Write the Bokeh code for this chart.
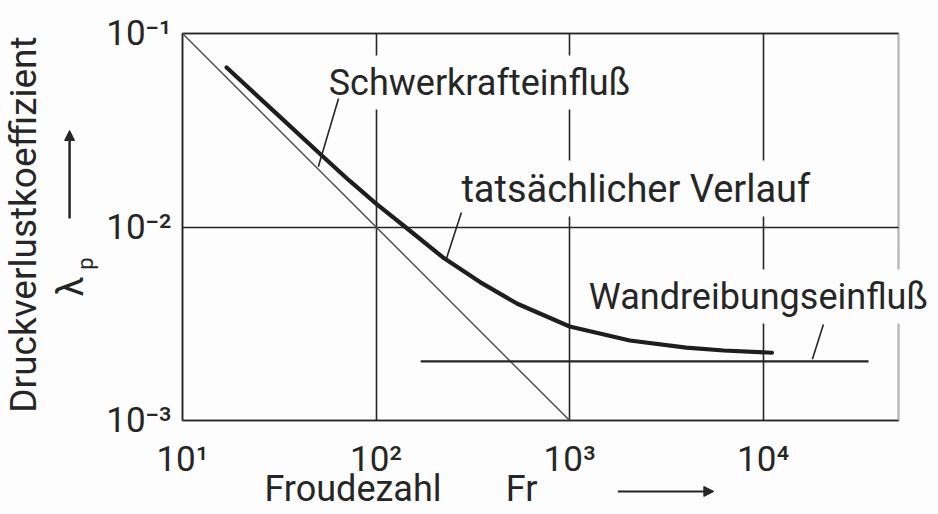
import math

from bokeh.plotting import figure
from bokeh.models import Label, Arrow, NormalHead, FixedTicker, BoxAnnotation
from bokeh.embed import file_html
from bokeh.resources import INLINE

# Measured pressure-loss coefficient over the Froude number
fr_actual = [16.9, 31.6, 50.1, 72.6, 100, 141.6, 220.8, 344.4, 537.0,
             1000, 2046, 4000, 6252, 11100]
lam_actual = [0.0667, 0.0374, 0.0244, 0.0174, 0.0132, 0.0100, 0.00698,
              0.00519, 0.00401, 0.00306, 0.00259, 0.00238, 0.00230, 0.00224]

# Asymptote for the gravity-dominated range (lambda_p = 1/Fr)
fr_gravity = [10, 1000]
lam_gravity = [0.1, 0.001]

# Asymptote for the wall-friction-dominated range
fr_wall = [170, 35000]
lam_wall = [0.00202, 0.00202]

x_ticks = [10.0, 100.0, 1000.0, 10000.0]
x_tick_labels = ["10\u00b9", "10\u00b2", "10\u00b3", "10\u2074"]
y_ticks = [0.001, 0.01, 0.1]
y_tick_labels = ["10\u207b\u00b3", "10\u207b\u00b2", "10\u207b\u00b9"]

# diagram window and the room around it (pixels) for axis titles
FR_MIN, FR_MAX = 10.0, 5e4
LAM_MIN, LAM_MAX = 1e-3, 1e-1
W, H = 938, 514
PAD_L, PAD_R, PAD_T, PAD_B = 182, 40, 33, 94

INK = "#262626"
BG = "#fdfdfd"
FONT = "Roboto"


def padded(lo, hi, size, pad_lo, pad_hi):
    a, b = math.log10(lo), math.log10(hi)
    per_px = (b - a) / (size - pad_lo - pad_hi)
    return 10 ** (a - pad_lo * per_px), 10 ** (b + pad_hi * per_px)


x_range = padded(FR_MIN, FR_MAX, W, PAD_L, PAD_R)
y_range = padded(LAM_MIN, LAM_MAX, H, PAD_B, PAD_T)

p = figure(width=W, height=H, title=None,
           x_axis_type="log", y_axis_type="log",
           x_range=x_range, y_range=y_range,
           output_backend="svg", toolbar_location=None,
           min_border=0,
           background_fill_color=BG, border_fill_color=BG)
p.outline_line_color = None

for ax, ticks, labels, loc in ((p.xaxis[0], x_ticks, x_tick_labels, LAM_MIN),
                               (p.yaxis[0], y_ticks, y_tick_labels, FR_MIN)):
    ax.fixed_location = loc
    ax.ticker = FixedTicker(ticks=ticks, minor_ticks=[])
    ax.major_label_overrides = dict(zip(ticks, labels))
    ax.axis_line_color = None
    ax.major_tick_line_color = None
    ax.minor_tick_line_color = None
    ax.major_label_text_font = FONT
    ax.major_label_text_font_size = "35px"
    ax.major_label_text_color = INK

p.xaxis.major_label_standoff = 12
p.yaxis.major_label_standoff = 5

p.grid.grid_line_color = INK
p.grid.grid_line_width = 1.6
p.grid.grid_line_alpha = 1.0
p.xgrid.cross_bounds = (LAM_MIN, LAM_MAX)
p.ygrid.cross_bounds = (FR_MIN, FR_MAX)

# diagram frame
p.add_layout(BoxAnnotation(left=FR_MIN, right=FR_MAX,
                           bottom=LAM_MIN, top=LAM_MAX,
                           fill_color=None, line_color=INK,
                           line_width=2.5, level="underlay"))

# asymptotes and measured curve
p.line(fr_gravity, lam_gravity, line_color="#4a4a4a", line_width=1.4)
p.line(fr_wall, lam_wall, line_color=INK, line_width=2.2)
p.line(fr_actual, lam_actual, line_color="#1e1e1e", line_width=4.2,
       line_join="round", line_cap="round")


def note(x, y, text, size):
    p.add_layout(Label(x=x, y=y, text=text, text_font=FONT,
                       text_font_size=size, text_color=INK,
                       text_baseline="alphabetic",
                       background_fill_color=BG, padding=6))


def leader(x0, y0, x1, y1):
    p.add_layout(Arrow(x_start=x0, y_start=y0, x_end=x1, y_end=y1,
                       end=None, line_color=INK, line_width=1.6))


note(53, 0.0558, "Schwerkrafteinflu\u00df", "36px")
note(257, 0.0158, "tats\u00e4chlicher Verlauf", "38px")
note(1170, 0.00437, "Wandreibungseinflu\u00df", "36px")

leader(64, 0.0461, 50.3, 0.0205)
leader(276, 0.01189, 231, 0.00687)
leader(20460, 0.00313, 17950, 0.00207)


def title_text(x, y, text, size, angle=0.0, align="left", baseline="alphabetic"):
    p.add_layout(Label(x=x, y=y, text=text, text_font=FONT,
                       text_font_size=size, text_color=INK, angle=angle,
                       text_align=align, text_baseline=baseline))


def direction(x0, y0, x1, y1, width):
    p.add_layout(Arrow(x_start=x0, y_start=y0, x_end=x1, y_end=y1,
                       line_color=INK, line_width=width,
                       end=NormalHead(size=10, fill_color=INK,
                                      line_color=INK)))


# x-axis title
title_text(26.5, 4.40e-4, "Froudezahl", "36px")
title_text(468, 4.40e-4, "Fr", "36px")
direction(1774, 4.30e-4, 5560, 4.30e-4, 2)

# y-axis title
title_text(1.507, 0.0103, "Druckverlustkoeffizient", "37px",
           angle=math.pi / 2, align="center", baseline="middle")
title_text(2.67, 0.00493, "\u03bb", "36px",
           angle=math.pi / 2, align="center", baseline="middle")
title_text(3.15, 0.00647, "p", "22px",
           angle=math.pi / 2, align="center", baseline="middle")
direction(2.61, 0.01107, 2.61, 0.03155, 2.5)

open("out.html", "w").write(file_html(p, INLINE))
